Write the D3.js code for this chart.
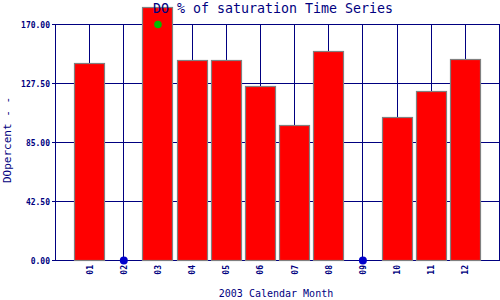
<!DOCTYPE html>
<html>
<head>
<meta charset="utf-8">
<script src="https://cdn.jsdelivr.net/npm/d3@7"></script>
<style>
  body { margin: 0; background: #fff; }
  text { font-family: "DejaVu Sans Mono", monospace; fill: #000080; }
</style>
</head>
<body>
<svg width="500" height="300"></svg>
<script>
// monthly DO % saturation values (0 = no sample that month)
var months = ["01", "02", "03", "04", "05", "06", "07", "08", "09", "10", "11", "12"];
var doValues = [141.7, 0, 182.0, 144.1, 144.1, 125.6, 97.0, 150.8, 0, 102.8, 121.5, 145.0];
var missing = ["02", "09"];
var standardMarks = [{ month: "03", value: 170 }];
var yTicks = [0, 42.5, 85, 127.5, 170];

var svg = d3.select("svg"),
    plotL = 55, plotR = 499, plotT = 24, plotB = 260;

var x = d3.scaleLinear().domain([0, 13]).range([plotL, plotR]);
var y = d3.scaleLinear().domain([0, 170]).range([plotB, plotT]);

var mx = function(m) { return x(months.indexOf(m) + 1); };

// grid
var grid = svg.append("g").attr("stroke", "#000080").attr("stroke-width", 1);
grid.selectAll("line.h")
    .data(yTicks)
    .enter().append("line")
    .attr("class", "h")
    .attr("x1", plotL).attr("x2", plotR)
    .attr("y1", function(d) { return Math.round(y(d)) + 0.5; })
    .attr("y2", function(d) { return Math.round(y(d)) + 0.5; });
grid.selectAll("line.v")
    .data(months)
    .enter().append("line")
    .attr("class", "v")
    .attr("x1", function(d) { return Math.round(mx(d)) + 0.5; })
    .attr("x2", function(d) { return Math.round(mx(d)) + 0.5; })
    .attr("y1", plotT).attr("y2", plotB);
grid.append("rect")
    .attr("x", plotL + 0.5).attr("y", plotT + 0.5)
    .attr("width", plotR - plotL).attr("height", plotB - plotT)
    .attr("fill", "none");

// bars
svg.append("g").selectAll("rect")
    .data(months.filter(function(d, i) { return doValues[i] > 0; }))
    .enter().append("rect")
    .attr("x", function(d) { return Math.round(mx(d)) - 14.5; })
    .attr("width", 30)
    .attr("y", function(d) { return Math.round(y(doValues[months.indexOf(d)])) + 0.5; })
    .attr("height", function(d) { return plotB - Math.round(y(doValues[months.indexOf(d)])); })
    .attr("fill", "#ff0000")
    .attr("stroke", "#808080")
    .attr("stroke-width", 1.2);

// missing months marked on the zero line
svg.append("g").selectAll("circle")
    .data(missing)
    .enter().append("circle")
    .attr("cx", function(d) { return mx(d) + 0.5; })
    .attr("cy", y(0) + 0.5)
    .attr("r", 4)
    .attr("fill", "#0000cc");

svg.append("g").selectAll("circle")
    .data(standardMarks)
    .enter().append("circle")
    .attr("cx", function(d) { return mx(d.month) + 0.5; })
    .attr("cy", function(d) { return y(d.value) + 0.5; })
    .attr("r", 3.8)
    .attr("fill", "#00bb00");

// y axis ticks + labels
var yAxis = svg.append("g");
yAxis.selectAll("line")
    .data(yTicks)
    .enter().append("line")
    .attr("x1", plotL - 3).attr("x2", plotL)
    .attr("y1", function(d) { return Math.round(y(d)) + 0.5; })
    .attr("y2", function(d) { return Math.round(y(d)) + 0.5; })
    .attr("stroke", "#000080");
yAxis.selectAll("text")
    .data(yTicks)
    .enter().append("text")
    .attr("x", plotL - 5)
    .attr("y", function(d) { return y(d) + 3.5; })
    .attr("text-anchor", "end")
    .attr("font-size", 8)
    .attr("font-weight", "bold")
    .text(function(d) { return d3.format(".2f")(d); });

// x tick labels (rotated)
svg.append("g").selectAll("text")
    .data(months)
    .enter().append("text")
    .attr("transform", function(d) { return "translate(" + (mx(d) + 3.5) + "," + 265 + ") rotate(-90)"; })
    .attr("text-anchor", "end")
    .attr("font-size", 8)
    .attr("font-weight", "bold")
    .text(function(d) { return d; });

// title and axis labels
svg.append("text")
    .attr("x", 273).attr("y", 13)
    .attr("text-anchor", "middle")
    .attr("font-size", 13.3)
    .text("DO % of saturation Time Series");

svg.append("text")
    .attr("x", 276).attr("y", 297)
    .attr("text-anchor", "middle")
    .attr("font-size", 10)
    .text("2003 Calendar Month");

svg.append("text")
    .attr("transform", "translate(11,140) rotate(-90)")
    .attr("text-anchor", "middle")
    .attr("font-size", 11)
    .text("DOpercent - -");
</script>
</body>
</html>
